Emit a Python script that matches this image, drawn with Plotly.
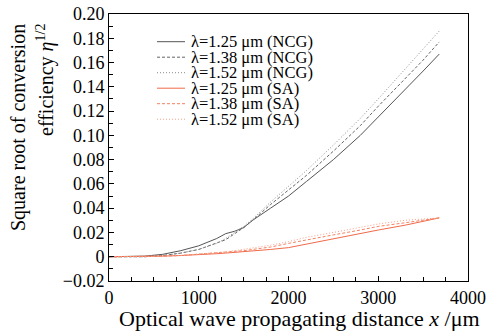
import plotly.graph_objects as go

# ---- data ----
x_um = [0, 400, 600, 800, 1000, 1200, 1300, 1400, 1500, 1600, 1800, 2000, 2200, 2500, 2800, 3000, 3300, 3500, 3680]

ncg_125 = [0, 0.0005, 0.002, 0.005, 0.009, 0.015, 0.019, 0.021, 0.024, 0.030, 0.040, 0.050, 0.062, 0.080, 0.100, 0.115, 0.138, 0.153, 0.167]
ncg_138 = [0, 0.000, 0.001, 0.003, 0.006, 0.011, 0.014, 0.019, 0.024, 0.030, 0.043, 0.055, 0.067, 0.087, 0.108, 0.124, 0.147, 0.162, 0.177]
ncg_152 = [0, 0.000, 0.001, 0.003, 0.006, 0.011, 0.015, 0.020, 0.025, 0.031, 0.045, 0.058, 0.071, 0.092, 0.114, 0.130, 0.155, 0.171, 0.186]

sa_125 = [0, 0, 0.0005, 0.001, 0.0015, 0.0025, 0.003, 0.0035, 0.004, 0.0045, 0.006, 0.0075, 0.0105, 0.015, 0.019, 0.022, 0.026, 0.029, 0.032]
sa_138 = [0, 0, 0.0005, 0.001, 0.002, 0.003, 0.0035, 0.004, 0.005, 0.006, 0.008, 0.011, 0.014, 0.018, 0.022, 0.025, 0.028, 0.030, 0.032]
sa_152 = [0, 0, 0.0005, 0.001, 0.002, 0.0035, 0.004, 0.005, 0.006, 0.007, 0.0095, 0.0125, 0.016, 0.020, 0.024, 0.027, 0.030, 0.031, 0.032]

series_names = ["λ=1.25 μm (NCG)", "λ=1.38 μm (NCG)", "λ=1.52 μm (NCG)",
                "λ=1.25 μm (SA)", "λ=1.38 μm (SA)", "λ=1.52 μm (SA)"]
series_values = [ncg_125, ncg_138, ncg_152, sa_125, sa_138, sa_152]

x_tickvals = [0, 1000, 2000, 3000, 4000]
x_ticktext = ["0", "1000", "2000", "3000", "4000"]
y_tickvals = [-0.02, 0, 0.02, 0.04, 0.06, 0.08, 0.10, 0.12, 0.14, 0.16, 0.18, 0.20]
y_ticktext = ["−0.02", "0", "0.02", "0.04", "0.06", "0.08", "0.10", "0.12", "0.14", "0.16", "0.18", "0.20"]

x_title = "Optical wave propagating distance <i>x</i> /μm"
y_title_1 = "Square root of conversion"
y_title_2 = "efficiency <i>η</i><sup>1/2</sup>"

# ---- styles ----
colors = ["#555555", "#666666", "#8a8a8a", "#f06a4a", "#f58060", "#f7a088"]
dashes = ["solid", "3px,2px", "1px,2px", "solid", "3px,2px", "1px,2px"]
FONT = "Liberation Serif, Times New Roman, serif"

fig = go.Figure()
for name, vals, c, d in zip(series_names, series_values, colors, dashes):
    fig.add_trace(go.Scatter(x=x_um, y=vals, mode="lines", name=name,
                             line=dict(color=c, width=1, dash=d),
                             showlegend=False))

# plot area in pixels: left 109, right 468, top 14, bottom 281
L, R, T, B = 109, 468, 14, 281
PW, PH = R - L, B - T

def px(xp):
    return (xp - L) / PW

def py(yp):
    return (B - yp) / PH

annotations = []
shapes = []
# legend built from annotations + sample line shapes
row_y = [41.7, 57.2, 72.7, 88.2, 103.7, 119.2]
for name, c, d, yy in zip(series_names, colors, dashes, row_y):
    shapes.append(dict(type="line", xref="paper", yref="paper",
                       x0=px(157), x1=px(185), y0=py(yy), y1=py(yy),
                       line=dict(color=c, width=1, dash=d)))
    annotations.append(dict(text=name, xref="paper", yref="paper",
                            x=px(189), y=py(yy), xanchor="left", yanchor="middle",
                            showarrow=False, font=dict(family=FONT, size=16.5, color="black")))

annotations.append(dict(text=y_title_1, xref="paper", yref="paper", x=px(18), y=py(128),
                        xanchor="center", yanchor="middle", textangle=-90, showarrow=False,
                        font=dict(family=FONT, size=20, color="black")))
annotations.append(dict(text=y_title_2, xref="paper", yref="paper", x=px(45), y=py(80),
                        xanchor="center", yanchor="middle", textangle=-90, showarrow=False,
                        font=dict(family=FONT, size=20, color="black")))
annotations.append(dict(text=x_title, xref="paper", yref="paper", x=px(299), y=py(318),
                        xanchor="center", yanchor="middle", showarrow=False,
                        font=dict(family=FONT, size=22, color="black")))

fig.update_layout(
    width=487, height=332,
    margin=dict(l=L, r=487 - R, t=T, b=332 - B, autoexpand=False),
    paper_bgcolor="white", plot_bgcolor="white",
    font=dict(family=FONT, size=18, color="black"),
    annotations=annotations, shapes=shapes,
    showlegend=False,
)
fig.update_xaxes(range=[0, 4000], tickvals=x_tickvals, ticktext=x_ticktext,
                 ticks="inside", ticklen=5, automargin=False,
                 tickcolor="black", showline=True, linecolor="black", linewidth=1, mirror=True,
                 showgrid=False, zeroline=False,
                 minor=dict(dtick=250, tick0=0, ticks="inside", ticklen=4, tickcolor="black"),
                 tickfont=dict(family=FONT, size=18))
fig.update_yaxes(range=[-0.02, 0.20], tickvals=y_tickvals, ticktext=y_ticktext,
                 ticks="inside", ticklen=5, automargin=False,
                 tickcolor="black", showline=True, linecolor="black", linewidth=1, mirror=True,
                 showgrid=False, zeroline=False,
                 minor=dict(dtick=0.01, tick0=0, ticks="inside", ticklen=4, tickcolor="black"),
                 tickfont=dict(family=FONT, size=18))

fig.write_html("out.html", config={"displayModeBar": False},
               post_script="document.body.style.margin='0';document.body.style.overflow='hidden';")
